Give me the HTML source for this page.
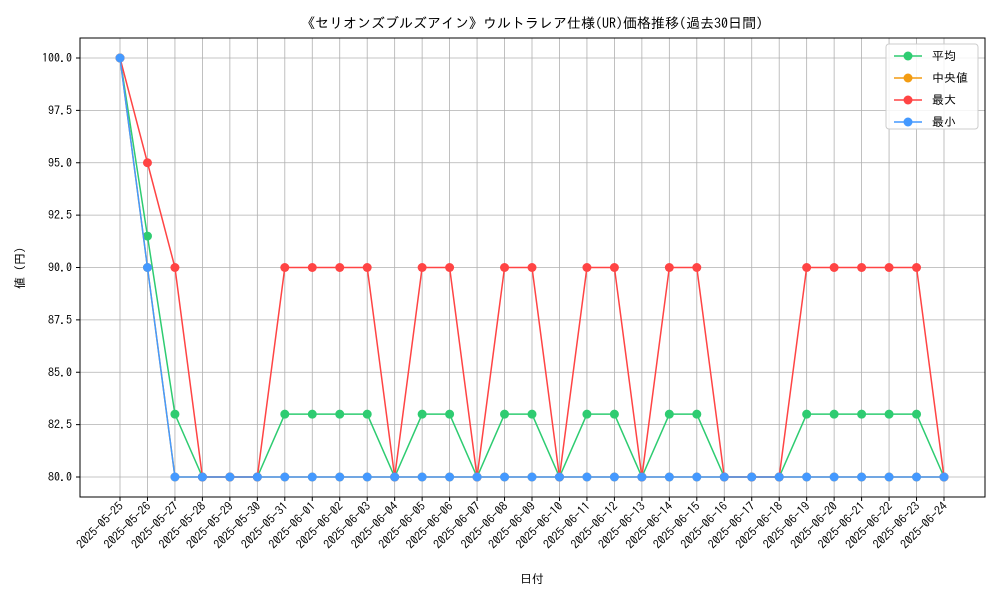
<!DOCTYPE html>
<html><head><meta charset="utf-8">
<style>
body{margin:0;background:#fff;}
svg text{font-family:"IPAGothic","Noto Sans CJK JP",sans-serif;fill:#000;}
</style></head>
<body>
<svg id="chart" width="1000" height="600" xmlns="http://www.w3.org/2000/svg">
<rect width="1000" height="600" fill="#fff"/>
<text x="532" y="28" font-size="14" text-anchor="middle">《セリオンズブルズアイン》ウルトラレア仕様(UR)価格推移(過去30日間)</text>
<g id="grid"></g>
<g id="axes"></g>
<g id="series"></g>
<rect x="80" y="38" width="905" height="459" fill="none" stroke="#000" stroke-width="1"/>
<text x="532" y="583" font-size="12" text-anchor="middle">日付</text>
<text transform="translate(24,268) rotate(-90)" font-size="12" text-anchor="middle">値 (円)</text>
<g id="legend"></g>
</svg>
<script>
const dates=["2025-05-25","2025-05-26","2025-05-27","2025-05-28","2025-05-29","2025-05-30","2025-05-31","2025-06-01","2025-06-02","2025-06-03","2025-06-04","2025-06-05","2025-06-06","2025-06-07","2025-06-08","2025-06-09","2025-06-10","2025-06-11","2025-06-12","2025-06-13","2025-06-14","2025-06-15","2025-06-16","2025-06-17","2025-06-18","2025-06-19","2025-06-20","2025-06-21","2025-06-22","2025-06-23","2025-06-24"];
const avgVals=[100,91.5,83,80,80,80,83,83,83,83,80,83,83,80,83,83,80,83,83,80,83,83,80,80,80,83,83,83,83,83,80];
const medVals=[100,90,80,80,80,80,80,80,80,80,80,80,80,80,80,80,80,80,80,80,80,80,80,80,80,80,80,80,80,80,80];
const maxVals=[100,95,90,80,80,80,90,90,90,90,80,90,90,80,90,90,80,90,90,80,90,90,80,80,80,90,90,90,90,90,80];
const minVals=[100,90,80,80,80,80,80,80,80,80,80,80,80,80,80,80,80,80,80,80,80,80,80,80,80,80,80,80,80,80,80];
const yTicks=[80,82.5,85,87.5,90,92.5,95,97.5,100];
const seriesNames=["平均","中央値","最大","最小"];
const NS="http://www.w3.org/2000/svg";
const xS=i=>120+i*(944-120)/(dates.length-1);
const yS=v=>477-(v-80)*(477-58)/20;
function mk(t,a,p){const e=document.createElementNS(NS,t);for(const k in a)e.setAttribute(k,a[k]);p.appendChild(e);return e;}
const grid=document.getElementById('grid'),axes=document.getElementById('axes');
dates.forEach((d,i)=>{
  const l=mk('line',{x1:xS(i),x2:xS(i),y1:38,y2:497,stroke:'#b0b0b0','stroke-width':0.8},grid);
  
  
  const tk=mk('line',{x1:xS(i),x2:xS(i),y1:497,y2:501,stroke:'#000'},axes);
  
  
  const t=mk('text',{transform:`translate(${xS(i)+4},${507}) rotate(-45)`,'font-size':12,'text-anchor':'end'},axes);
  t.textContent=d;
  
  
});
yTicks.forEach(v=>{
  const l=mk('line',{x1:80,x2:985,y1:yS(v),y2:yS(v),stroke:'#b0b0b0','stroke-width':0.8},grid);
  
  
  const tk=mk('line',{x1:76,x2:80,y1:yS(v),y2:yS(v),stroke:'#000'},axes);
  
  
  const t=mk('text',{x:72,y:yS(v)+4,'font-size':12,'text-anchor':'end'},axes);
  t.textContent=v.toFixed(1);
  
  
});
const all=[avgVals,medVals,maxVals,minVals],cols=["#2ecc71","#f39c12","#ff4444","#4499ff"],keys=["avg","median","max","min"];
const sg=document.getElementById('series');
all.forEach((vals,s)=>{
  const g=mk('g',{},sg);
  
  
  const p=mk('polyline',{points:vals.map((v,i)=>xS(i)+','+yS(v)).join(' '),fill:'none',stroke:cols[s],'stroke-width':1.5},g);
  
  
  vals.forEach((v,i)=>{
    const c=mk('circle',{cx:xS(i),cy:yS(v),r:4.5,fill:cols[s]},g);
    
    
  });
});
const lg=document.getElementById('legend');
const box=mk('rect',{x:886,y:44,width:92,height:85,rx:3,fill:'#fff',stroke:'#ccc','fill-opacity':0.85},lg);


seriesNames.forEach((n,s)=>{
  const y=56+s*22;
  const g=mk('g',{},lg);
  
  
  mk('line',{x1:894,x2:922,y1:y,y2:y,stroke:cols[s],'stroke-width':1.5},g);
  mk('circle',{cx:908,cy:y,r:4.5,fill:cols[s]},g);
  const t=mk('text',{x:932,y:y+4,'font-size':12},g);
  t.textContent=n;
});
</script>
</body></html>
